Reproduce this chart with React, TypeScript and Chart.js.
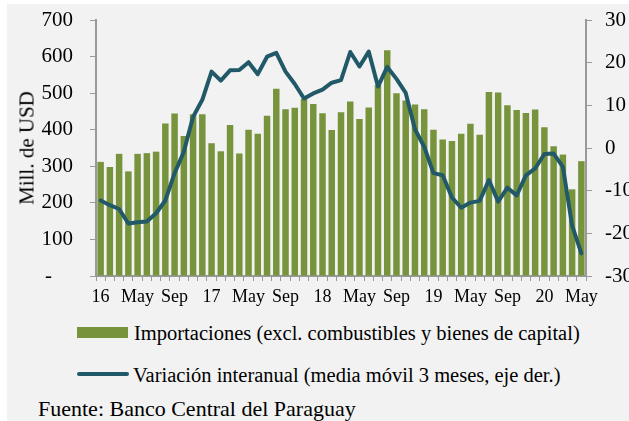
import React, { useEffect, useRef } from "react";
import { Chart, registerables } from "chart.js";

Chart.register(...registerables);

const categories = [
  "16", "Feb", "Mar", "Abr", "May", "Jun", "Jul", "Ago", "Sep", "Oct", "Nov", "Dic",
  "17", "Feb", "Mar", "Abr", "May", "Jun", "Jul", "Ago", "Sep", "Oct", "Nov", "Dic",
  "18", "Feb", "Mar", "Abr", "May", "Jun", "Jul", "Ago", "Sep", "Oct", "Nov", "Dic",
  "19", "Feb", "Mar", "Abr", "May", "Jun", "Jul", "Ago", "Sep", "Oct", "Nov", "Dic",
  "20", "Feb", "Mar", "Abr", "May",
];

const importaciones = [
  312, 298, 334, 286, 334, 336, 340, 417, 444, 383, 442, 442,
  363, 341, 413, 335, 400, 389, 438, 512, 456, 460, 484, 470,
  445, 399, 448, 477, 429, 461, 522, 617, 500, 480, 469, 456,
  400, 373, 369, 389, 416, 386, 503, 502, 467, 454, 446, 455,
  407, 355, 332, 237, 314,
];

const variacion = [
  -12.3, -13.4, -14.3, -17.7, -17.4, -17.2, -15.3, -12.3, -5.9, -0.9, 7.3, 11.3,
  17.9, 15.8, 18.2, 18.3, 20.1, 17.3, 21.4, 22.3, 17.9, 15.0, 11.6, 12.8,
  13.7, 15.3, 15.9, 22.5, 19.1, 22.6, 14.4, 19.0, 16.2, 12.9, 4.4, 0.3,
  -5.9, -6.4, -11.6, -14.0, -12.8, -12.4, -7.5, -12.6, -9.3, -11.1, -6.4, -4.8,
  -1.4, -1.3, -4.4, -18.2, -24.7,
];

const leftTicks = [0, 100, 200, 300, 400, 500, 600, 700];
const rightTicks = [-30, -20, -10, 0, 10, 20, 30];
const shownLabels = ["16", "17", "18", "19", "20", "May", "Sep"];

const GREEN = "#77933c";
const TEAL = "#215968";
const AXIS = "#999999";
const FONT = "'Liberation Serif', 'DejaVu Serif', 'Times New Roman', serif";

export default function App() {
  const canvasRef = useRef<HTMLCanvasElement | null>(null);

  useEffect(() => {
    const canvas = canvasRef.current;
    if (!canvas) return;
    const chart = new Chart(canvas, {
      type: "bar",
      data: {
        labels: categories,
        datasets: [
          {
            type: "line",
            label: "Variación interanual (media móvil 3 meses, eje der.)",
            data: variacion,
            yAxisID: "y1",
            borderColor: TEAL,
            backgroundColor: TEAL,
            borderWidth: 4,
            pointRadius: 0,
            tension: 0,
            borderJoinStyle: "round",
            borderCapStyle: "round",
            order: 0,
          } as any,
          {
            type: "bar",
            label: "Importaciones (excl. combustibles y bienes de capital)",
            data: importaciones,
            yAxisID: "y",
            backgroundColor: GREEN,
            barPercentage: 0.7,
            categoryPercentage: 1.0,
            order: 1,
          },
        ],
      },
      options: {
        responsive: false,
        animation: false,
        layout: { padding: { top: 20, left: 0, right: 0, bottom: 0 } },
        plugins: {
          legend: { display: false },
          tooltip: { enabled: false },
          title: { display: false },
        },
        scales: {
          x: {
            type: "category",
            offset: true,
            grid: {
              offset: true,
              drawOnChartArea: false,
              drawTicks: true,
              tickLength: 5,
              color: AXIS,
              lineWidth: 1,
            },
            border: { display: true, color: AXIS, width: 2 },
            ticks: {
              autoSkip: false,
              maxRotation: 0,
              minRotation: 0,
              padding: 5,
              color: "#000",
              font: { family: FONT, size: 18 },
              callback: (_v: any, i: number) =>
                shownLabels.includes(categories[i]) ? categories[i] : "",
            },
            afterFit: (s: any) => {
              s.height = 39;
              s.paddingLeft = 0;
              s.paddingRight = 0;
            },
          },
          y: {
            position: "left",
            min: 0,
            max: 700,
            afterBuildTicks: (s: any) => {
              s.ticks = leftTicks.map((v) => ({ value: v }));
            },
            grid: {
              drawOnChartArea: false,
              drawTicks: true,
              tickLength: 6,
              color: AXIS,
              lineWidth: 1,
            },
            border: { display: true, color: AXIS, width: 2 },
            ticks: {
              padding: 17,
              color: "#000",
              font: { family: FONT, size: 21 },
              callback: (v: any) => (Number(v) === 0 ? "-    " : String(v)),
            },
            afterFit: (s: any) => {
              s.width = 96;
              s.paddingTop = 0;
              s.paddingBottom = 0;
            },
          },
          y1: {
            position: "right",
            min: -30,
            max: 30,
            afterBuildTicks: (s: any) => {
              s.ticks = rightTicks.map((v) => ({ value: v }));
            },
            grid: {
              drawOnChartArea: false,
              drawTicks: true,
              tickLength: 6,
              color: AXIS,
              lineWidth: 1,
            },
            border: { display: true, color: AXIS, width: 2 },
            ticks: {
              padding: 13,
              color: "#000",
              font: { family: FONT, size: 21 },
              callback: (v: any) => String(v),
            },
            afterFit: (s: any) => {
              s.width = 43;
              s.paddingTop = 0;
              s.paddingBottom = 0;
            },
          },
        },
      } as any,
    });
    return () => chart.destroy();
  }, []);

  return (
    <div
      style={{
        position: "absolute",
        left: 0,
        top: 0,
        width: 629,
        height: 421,
        overflow: "hidden",
        background: "#ffffff",
        fontFamily: FONT,
        color: "#000",
      }}
    >
      <div
        style={{
          position: "absolute",
          left: 7,
          top: 4,
          right: 0,
          bottom: 0,
          background: "#f2f2f2",
        }}
      />
      <canvas
        ref={canvasRef}
        width={629}
        height={315}
        style={{ position: "absolute", left: 0, top: 0, width: 629, height: 315 }}
      />
      <div
        style={{
          position: "absolute",
          left: 27,
          top: 148,
          transform: "translate(-50%, -50%) rotate(-90deg)",
          whiteSpace: "nowrap",
          fontSize: 21,
          lineHeight: "21px",
        }}
      >
        Mill. de USD
      </div>
      <div
        style={{
          position: "absolute",
          left: 77,
          top: 327,
          width: 51,
          height: 11,
          background: GREEN,
        }}
      />
      <div
        style={{
          position: "absolute",
          left: 134,
          top: 323,
          whiteSpace: "nowrap",
          fontSize: 20.5,
          lineHeight: "20.5px",
        }}
      >
        Importaciones (excl. combustibles y bienes de capital)
      </div>
      <div
        style={{
          position: "absolute",
          left: 77,
          top: 372,
          width: 52,
          height: 4,
          borderRadius: 2,
          background: TEAL,
        }}
      />
      <div
        style={{
          position: "absolute",
          left: 133,
          top: 365,
          whiteSpace: "nowrap",
          fontSize: 20.5,
          lineHeight: "20.5px",
        }}
      >
        Variación interanual (media móvil 3 meses, eje der.)
      </div>
      <div
        style={{
          position: "absolute",
          left: 38,
          top: 398,
          whiteSpace: "nowrap",
          fontSize: 22,
          lineHeight: "22px",
        }}
      >
        Fuente: Banco Central del Paraguay
      </div>
    </div>
  );
}
